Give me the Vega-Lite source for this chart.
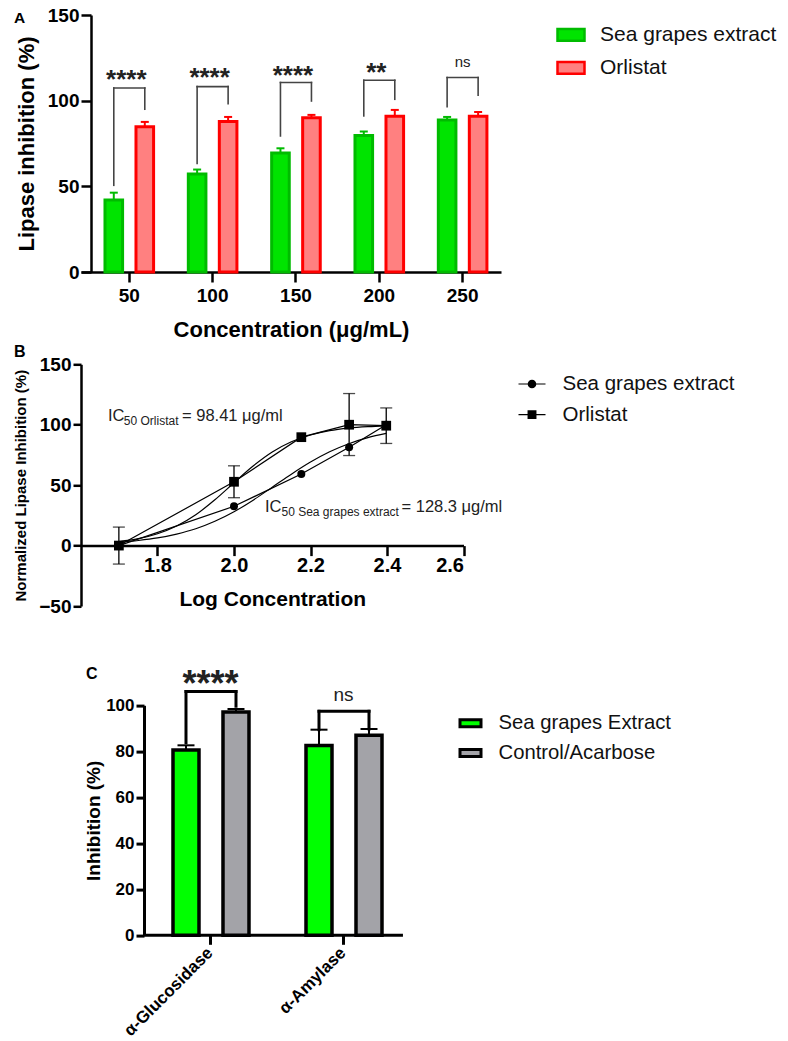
{
  "$schema": "https://vega.github.io/schema/vega-lite/v6.json",
  "padding": {"left": 13, "top": 6, "right": 0, "bottom": 0},
  "background": "white",
  "config": {
    "view": {"stroke": null},
    "font": "Liberation Sans",
    "axis": {"grid": false, "domainColor": "black", "tickColor": "black", "labelColor": "black", "titleColor": "black", "labelFont": "Liberation Sans", "titleFont": "Liberation Sans", "labelFontWeight": "bold", "titleFontWeight": "bold"},
    "legend": {"labelFont": "Liberation Sans", "labelColor": "#111", "padding": 0, "labelLimit": 400},
    "title": {"font": "Liberation Sans", "fontWeight": "bold", "color": "black"}
  },
  "datasets": {
    "a_bars": [
      {"conc": "50", "series": "Sea grapes extract", "val": 42.0, "hi": 46.3},
      {"conc": "50", "series": "Orlistat", "val": 84.8, "hi": 87.6},
      {"conc": "100", "series": "Sea grapes extract", "val": 57.2, "hi": 59.8},
      {"conc": "100", "series": "Orlistat", "val": 87.9, "hi": 90.5},
      {"conc": "150", "series": "Sea grapes extract", "val": 69.5, "hi": 72.2},
      {"conc": "150", "series": "Orlistat", "val": 90.1, "hi": 91.7},
      {"conc": "200", "series": "Sea grapes extract", "val": 79.6, "hi": 82.0},
      {"conc": "200", "series": "Orlistat", "val": 90.9, "hi": 94.6},
      {"conc": "250", "series": "Sea grapes extract", "val": 88.7, "hi": 90.5},
      {"conc": "250", "series": "Orlistat", "val": 90.9, "hi": 93.4}
    ],
    "a_brackets": [
      {"conc": "50", "lo_l": 50.6, "lo_r": 95.0, "top": 107.4},
      {"conc": "100", "lo_l": 63.3, "lo_r": 98.3, "top": 108.2},
      {"conc": "150", "lo_l": 79.4, "lo_r": 99.8, "top": 110.6},
      {"conc": "200", "lo_l": 91.1, "lo_r": 100.8, "top": 111.9},
      {"conc": "250", "lo_l": 96.5, "lo_r": 103.2, "top": 113.5}
    ],
    "a_sig": [
      {"conc": "50", "label": "****", "y": 107.2},
      {"conc": "100", "label": "****", "y": 108.6},
      {"conc": "150", "label": "****", "y": 110.0},
      {"conc": "200", "label": "**", "y": 111.5},
      {"conc": "250", "label": "ns", "y": 119.9}
    ],
    "b_pts": [
      {"series": "Sea grapes extract", "x": 1.699, "y": 0},
      {"series": "Sea grapes extract", "x": 2.0, "y": 32.5},
      {"series": "Sea grapes extract", "x": 2.176, "y": 59.2},
      {"series": "Sea grapes extract", "x": 2.301, "y": 81.4},
      {"series": "Sea grapes extract", "x": 2.398, "y": 100},
      {"series": "Orlistat", "x": 1.699, "y": 0},
      {"series": "Orlistat", "x": 2.0, "y": 52.8},
      {"series": "Orlistat", "x": 2.176, "y": 89.7},
      {"series": "Orlistat", "x": 2.301, "y": 100},
      {"series": "Orlistat", "x": 2.398, "y": 99.2}
    ],
    "b_err": [
      {"series": "Orlistat", "x": 1.699, "lo": -15.3, "hi": 15.3},
      {"series": "Orlistat", "x": 2.0, "lo": 39.6, "hi": 66.0},
      {"series": "Orlistat", "x": 2.301, "lo": 74.5, "hi": 125.8},
      {"series": "Orlistat", "x": 2.398, "lo": 84.5, "hi": 113.9}
    ],
    "b_fit": [
      {"series": "Orlistat", "x": 1.699, "y": 3.3},
      {"series": "Orlistat", "x": 1.75, "y": 5.7},
      {"series": "Orlistat", "x": 1.8, "y": 9.8},
      {"series": "Orlistat", "x": 1.85, "y": 16.2},
      {"series": "Orlistat", "x": 1.9, "y": 25.5},
      {"series": "Orlistat", "x": 1.95, "y": 37.9},
      {"series": "Orlistat", "x": 2.0, "y": 52.0},
      {"series": "Orlistat", "x": 2.05, "y": 65.8},
      {"series": "Orlistat", "x": 2.1, "y": 77.4},
      {"series": "Orlistat", "x": 2.15, "y": 85.9},
      {"series": "Orlistat", "x": 2.2, "y": 91.5},
      {"series": "Orlistat", "x": 2.25, "y": 95.1},
      {"series": "Orlistat", "x": 2.3, "y": 97.2},
      {"series": "Orlistat", "x": 2.35, "y": 98.4},
      {"series": "Orlistat", "x": 2.398, "y": 99.1},
      {"series": "Sea grapes extract", "x": 1.699, "y": 2.7},
      {"series": "Sea grapes extract", "x": 1.75, "y": 4.2},
      {"series": "Sea grapes extract", "x": 1.8, "y": 6.3},
      {"series": "Sea grapes extract", "x": 1.85, "y": 9.5},
      {"series": "Sea grapes extract", "x": 1.9, "y": 13.9},
      {"series": "Sea grapes extract", "x": 1.95, "y": 20.1},
      {"series": "Sea grapes extract", "x": 2.0, "y": 28.0},
      {"series": "Sea grapes extract", "x": 2.05, "y": 37.6},
      {"series": "Sea grapes extract", "x": 2.1, "y": 48.3},
      {"series": "Sea grapes extract", "x": 2.15, "y": 59.1},
      {"series": "Sea grapes extract", "x": 2.2, "y": 69.1},
      {"series": "Sea grapes extract", "x": 2.25, "y": 77.6},
      {"series": "Sea grapes extract", "x": 2.3, "y": 84.3},
      {"series": "Sea grapes extract", "x": 2.35, "y": 89.3},
      {"series": "Sea grapes extract", "x": 2.398, "y": 92.8}
    ],
    "b_ann": [
      {"x": 1.6706, "y": 102.8, "t": "IC", "part": "main"},
      {"x": 1.712, "y": 102.8, "t": "50 Orlistat", "part": "sub"},
      {"x": 1.864, "y": 102.8, "t": "= 98.41 μg/ml", "part": "main"},
      {"x": 2.081, "y": 27.8, "t": "IC", "part": "main"},
      {"x": 2.1242, "y": 27.8, "t": "50 Sea grapes extract", "part": "sub"},
      {"x": 2.4379, "y": 27.8, "t": "= 128.3 μg/ml", "part": "main"}
    ],
    "c_bars": [
      {"enz": "α-Glucosidase", "series": "Sea grapes Extract", "val": 80.6, "hi": 82.6},
      {"enz": "α-Glucosidase", "series": "Control/Acarbose", "val": 97.1, "hi": 98.4},
      {"enz": "α-Amylase", "series": "Sea grapes Extract", "val": 82.5, "hi": 89.4},
      {"enz": "α-Amylase", "series": "Control/Acarbose", "val": 87.0, "hi": 89.7}
    ],
    "c_base": [
      {"from": "α-Glucosidase", "to": "α-Amylase", "y": 0}
    ],
    "c_brackets": [
      {"enz": "α-Glucosidase", "lo_l": 83.7, "lo_r": 99.6, "top": 106.0},
      {"enz": "α-Amylase", "lo_l": 89.4, "lo_r": 89.7, "top": 97.4}
    ],
    "c_sig": [
      {"enz": "α-Glucosidase", "label": "****", "y": 103.9},
      {"enz": "α-Amylase", "label": "ns", "y": 102.0}
    ]
  },
  "vconcat": [
    {
      "width": 420,
      "height": 257,
      "title": {"text": "A", "anchor": "start", "frame": "group", "fontSize": 15.5, "offset": 0, "dx": -67, "dy": 32.3, "baseline": "alphabetic"},
      "layer": [
        {
          "data": {"name": "a_bars"},
          "transform": [{"filter": "datum.series == 'Sea grapes extract'"}],
          "mark": {"type": "rule", "strokeWidth": 2, "xOffset": -15.5},
          "encoding": {
            "x": {"field": "conc", "type": "nominal", "sort": ["50", "100", "150", "200", "250"], "title": "Concentration (μg/mL)", "scale": {"domain": ["50", "100", "150", "200", "250"], "paddingInner": 0.25, "paddingOuter": 0.145, "align": 0.705},
              "axis": {"labelAngle": 0, "labelFontSize": 19, "tickSize": 10, "tickWidth": 2.5, "domainWidth": 2.5, "labelPadding": 4.3, "titleFontSize": 22, "titlePadding": 13.7}},
            "y": {"field": "val", "type": "quantitative", "title": "Lipase inhibition (%)", "scale": {"domain": [0, 150], "nice": false},
              "axis": {"values": [0, 50, 100, 150], "offset": -10, "labelFontSize": 19, "tickSize": 10, "tickWidth": 2.5, "domainWidth": 2.5, "labelPadding": 2, "titleFontSize": 22, "titlePadding": 9}},
            "y2": {"field": "hi"},
            "stroke": {"field": "series", "type": "nominal", "scale": {"domain": ["Sea grapes extract", "Orlistat"], "range": ["#00bb00", "#ff0000"]},
              "legend": {"orient": "none", "legendX": 475, "legendY": 4.8, "title": null, "labelFontSize": 21, "labelOffset": 14, "rowPadding": 7, "symbolType": "M-1,-0.437H1V0.437H-1Z", "symbolSize": 729, "symbolStrokeWidth": 2.5, "padding": 0}}
          }
        },
        {
          "data": {"name": "a_bars"},
          "transform": [{"filter": "datum.series == 'Orlistat'"}],
          "mark": {"type": "rule", "strokeWidth": 2, "xOffset": 15.5},
          "encoding": {
            "x": {"field": "conc", "type": "nominal", "sort": ["50", "100", "150", "200", "250"]},
            "y": {"field": "val", "type": "quantitative"},
            "y2": {"field": "hi"},
            "stroke": {"field": "series", "type": "nominal"}
          }
        },
        {
          "data": {"name": "a_bars"},
          "transform": [{"filter": "datum.series == 'Sea grapes extract'"}],
          "mark": {"type": "rule", "strokeWidth": 2, "xOffset": -19.5, "x2Offset": -11.5},
          "encoding": {
            "x": {"field": "conc", "type": "nominal", "sort": ["50", "100", "150", "200", "250"]},
            "x2": {"field": "conc"},
            "y": {"field": "hi", "type": "quantitative"},
            "stroke": {"field": "series", "type": "nominal"}
          }
        },
        {
          "data": {"name": "a_bars"},
          "transform": [{"filter": "datum.series == 'Orlistat'"}],
          "mark": {"type": "rule", "strokeWidth": 2, "xOffset": 11.5, "x2Offset": 19.5},
          "encoding": {
            "x": {"field": "conc", "type": "nominal", "sort": ["50", "100", "150", "200", "250"]},
            "x2": {"field": "conc"},
            "y": {"field": "hi", "type": "quantitative"},
            "stroke": {"field": "series", "type": "nominal"}
          }
        },
        {
          "data": {"name": "a_bars"},
          "transform": [{"filter": "datum.series == 'Sea grapes extract'"}],
          "mark": {"type": "bar", "strokeWidth": 3, "width": 17.6, "xOffset": -15.5},
          "encoding": {
            "x": {"field": "conc", "type": "nominal", "sort": ["50", "100", "150", "200", "250"]},
            "y": {"field": "val", "type": "quantitative"},
            "fill": {"field": "series", "type": "nominal", "scale": {"domain": ["Sea grapes extract", "Orlistat"], "range": ["#00e400", "#ff8080"]},
              "legend": {"orient": "none", "legendX": 475, "legendY": 4.8, "title": null, "labelFontSize": 21, "labelOffset": 14, "rowPadding": 7, "symbolType": "M-1,-0.437H1V0.437H-1Z", "symbolSize": 729, "symbolStrokeWidth": 2.5, "padding": 0}},
            "stroke": {"field": "series", "type": "nominal"}
          }
        },
        {
          "data": {"name": "a_bars"},
          "transform": [{"filter": "datum.series == 'Orlistat'"}],
          "mark": {"type": "bar", "strokeWidth": 3, "width": 17.6, "xOffset": 15.5},
          "encoding": {
            "x": {"field": "conc", "type": "nominal", "sort": ["50", "100", "150", "200", "250"]},
            "y": {"field": "val", "type": "quantitative"},
            "fill": {"field": "series", "type": "nominal"},
            "stroke": {"field": "series", "type": "nominal"}
          }
        },
        {
          "data": {"name": "a_brackets"},
          "mark": {"type": "rule", "color": "#444", "strokeWidth": 1.6, "xOffset": -15.5, "strokeCap": "square"},
          "encoding": {
            "x": {"field": "conc", "type": "nominal", "sort": ["50", "100", "150", "200", "250"]},
            "y": {"field": "lo_l", "type": "quantitative"},
            "y2": {"field": "top"}
          }
        },
        {
          "data": {"name": "a_brackets"},
          "mark": {"type": "rule", "color": "#444", "strokeWidth": 1.6, "xOffset": 15.5, "strokeCap": "square"},
          "encoding": {
            "x": {"field": "conc", "type": "nominal", "sort": ["50", "100", "150", "200", "250"]},
            "y": {"field": "lo_r", "type": "quantitative"},
            "y2": {"field": "top"}
          }
        },
        {
          "data": {"name": "a_brackets"},
          "mark": {"type": "rule", "color": "#444", "strokeWidth": 1.6, "xOffset": -15.5, "x2Offset": 15.5, "strokeCap": "square"},
          "encoding": {
            "x": {"field": "conc", "type": "nominal", "sort": ["50", "100", "150", "200", "250"]},
            "x2": {"field": "conc"},
            "y": {"field": "top", "type": "quantitative"}
          }
        },
        {
          "data": {"name": "a_sig"},
          "transform": [{"filter": "datum.label != 'ns'"}],
          "mark": {"type": "text", "fontSize": 26, "fontWeight": "bold", "baseline": "alphabetic", "dx": -3, "color": "#222"},
          "encoding": {
            "x": {"field": "conc", "type": "nominal", "sort": ["50", "100", "150", "200", "250"]},
            "y": {"field": "y", "type": "quantitative"},
            "text": {"field": "label"}
          }
        },
        {
          "data": {"name": "a_sig"},
          "transform": [{"filter": "datum.label == 'ns'"}],
          "mark": {"type": "text", "fontSize": 15, "baseline": "alphabetic", "color": "#222"},
          "encoding": {
            "x": {"field": "conc", "type": "nominal", "sort": ["50", "100", "150", "200", "250"]},
            "y": {"field": "y", "type": "quantitative"},
            "text": {"field": "label"}
          }
        }
      ]
    },
    {
      "width": 382.5,
      "height": 241.7,
      "title": {"text": "B", "anchor": "start", "frame": "group", "fontSize": 16, "offset": 0, "dx": -67, "dy": 18, "baseline": "alphabetic"},
      "resolve": {"scale": {"shape": "independent", "size": "independent"}, "legend": {"shape": "independent", "size": "independent"}},
      "layer": [
        {
          "data": {"name": "b_fit"},
          "mark": {"type": "line", "interpolate": "monotone", "color": "black", "strokeWidth": 1.2},
          "encoding": {
            "x": {"field": "x", "type": "quantitative", "title": "Log Concentration", "scale": {"domain": [1.6, 2.6], "nice": false, "zero": false},
              "axis": {"values": [1.8, 2.0, 2.2, 2.4, 2.6], "format": ".1f", "offset": -60.4, "labelFontSize": 20, "tickSize": 10, "tickWidth": 2.5, "domainWidth": 2.5, "labelPadding": 0, "titleFontSize": 21, "titlePadding": 12.5}},
            "y": {"field": "y", "type": "quantitative", "title": "Normalized Lipase Inhibition (%)", "scale": {"domain": [-50, 150], "nice": false},
              "axis": {"values": [-50, 0, 50, 100, 150], "labelFontSize": 19, "tickSize": 8, "tickWidth": 2.5, "domainWidth": 2.5, "labelPadding": 2, "titleFontSize": 15, "titlePadding": 10.6}},
            "detail": {"field": "series"}
          }
        },
        {
          "data": {"name": "b_pts"},
          "mark": {"type": "line", "color": "black", "strokeWidth": 1.2},
          "encoding": {
            "x": {"field": "x", "type": "quantitative"},
            "y": {"field": "y", "type": "quantitative"},
            "detail": {"field": "series"}
          }
        },
        {
          "data": {"name": "b_err"},
          "mark": {"type": "rule", "color": "black", "strokeWidth": 1.3},
          "encoding": {
            "x": {"field": "x", "type": "quantitative"},
            "y": {"field": "lo", "type": "quantitative"},
            "y2": {"field": "hi"}
          }
        },
        {
          "data": {"name": "b_err"},
          "mark": {"type": "tick", "orient": "horizontal", "size": 12, "thickness": 1.3, "color": "black"},
          "encoding": {
            "x": {"field": "x", "type": "quantitative"},
            "y": {"field": "lo", "type": "quantitative"}
          }
        },
        {
          "data": {"name": "b_err"},
          "mark": {"type": "tick", "orient": "horizontal", "size": 12, "thickness": 1.3, "color": "black"},
          "encoding": {
            "x": {"field": "x", "type": "quantitative"},
            "y": {"field": "hi", "type": "quantitative"}
          }
        },
        {
          "data": {"name": "b_pts"},
          "mark": {"type": "point", "filled": true, "color": "black", "opacity": 1},
          "encoding": {
            "x": {"field": "x", "type": "quantitative"},
            "y": {"field": "y", "type": "quantitative"},
            "shape": {"field": "series", "type": "nominal", "scale": {"domain": ["Sea grapes extract", "Orlistat"], "range": ["circle", "square"]}, "legend": null},
            "size": {"field": "series", "type": "ordinal", "scale": {"domain": ["Sea grapes extract", "Orlistat"], "range": [64, 95]}, "legend": null}
          }
        },
        {
          "data": {"name": "b_pts"},
          "mark": {"type": "point", "filled": true, "color": "black", "opacity": 0},
          "encoding": {
            "x": {"field": "x", "type": "quantitative"},
            "y": {"field": "y", "type": "quantitative"},
            "shape": {"field": "series", "type": "nominal", "scale": {"domain": ["Sea grapes extract", "Orlistat"], "range": ["M-1,-0.045H1V0.045H-1ZM-0.32,0A0.32,0.32,0,1,1,0.32,0A0.32,0.32,0,1,1,-0.32,0Z", "M-1,-0.045H1V0.045H-1ZM-0.33,-0.33H0.33V0.33H-0.33Z"]},
              "legend": {"orient": "none", "legendX": 436.5, "legendY": 5.2, "title": null, "labelFontSize": 20.5, "labelOffset": 16, "rowPadding": 5.6, "symbolSize": 729, "symbolFillColor": "black", "symbolOpacity": 1, "padding": 0}}
          }
        },
        {
          "data": {"name": "b_ann"},
          "transform": [{"filter": "datum.part == 'main'"}],
          "mark": {"type": "text", "fontSize": 16.5, "align": "left", "baseline": "alphabetic", "color": "#222"},
          "encoding": {
            "x": {"field": "x", "type": "quantitative"},
            "y": {"field": "y", "type": "quantitative"},
            "text": {"field": "t"}
          }
        },
        {
          "data": {"name": "b_ann"},
          "transform": [{"filter": "datum.part == 'sub'"}],
          "mark": {"type": "text", "fontSize": 12, "align": "left", "baseline": "alphabetic", "dy": 4, "color": "#222"},
          "encoding": {
            "x": {"field": "x", "type": "quantitative"},
            "y": {"field": "y", "type": "quantitative"},
            "text": {"field": "t"}
          }
        }
      ]
    },
    {
      "width": 329,
      "height": 236.7,
      "title": {"text": "C", "anchor": "start", "frame": "group", "fontSize": 16, "offset": 0, "dx": 5, "dy": 27.3, "baseline": "alphabetic"},
      "layer": [
        {
          "data": {"name": "c_bars"},
          "transform": [{"filter": "datum.series == 'Sea grapes Extract'"}],
          "mark": {"type": "rule", "color": "black", "strokeWidth": 2, "xOffset": -24.5},
          "encoding": {
            "x": {"field": "enz", "type": "nominal", "sort": ["α-Glucosidase", "α-Amylase"], "title": null, "scale": {"domain": ["α-Glucosidase", "α-Amylase"], "paddingInner": 0, "paddingOuter": 0.2368, "align": 1},
              "axis": {"labelAngle": -45, "labelFontSize": 17, "tickSize": 9, "tickWidth": 3, "domain": false, "labelPadding": 0, "labelOffset": -6}},
            "y": {"field": "val", "type": "quantitative", "title": "Inhibition (%)", "scale": {"domain": [0, 100], "nice": false, "range": [236.7, 6.7]},
              "axis": {"values": [0, 20, 40, 60, 80, 100], "offset": -63, "labelFontSize": 17, "tickSize": 8, "tickWidth": 3, "domainWidth": 3, "labelPadding": 2, "titleFontSize": 19, "titlePadding": 2.4}},
            "y2": {"field": "hi"}
          }
        },
        {
          "data": {"name": "c_bars"},
          "transform": [{"filter": "datum.series == 'Control/Acarbose'"}],
          "mark": {"type": "rule", "color": "black", "strokeWidth": 2, "xOffset": 25.5},
          "encoding": {
            "x": {"field": "enz", "type": "nominal", "sort": ["α-Glucosidase", "α-Amylase"]},
            "y": {"field": "val", "type": "quantitative"},
            "y2": {"field": "hi"}
          }
        },
        {
          "data": {"name": "c_bars"},
          "transform": [{"filter": "datum.series == 'Sea grapes Extract'"}],
          "mark": {"type": "rule", "color": "black", "strokeWidth": 2, "xOffset": -33, "x2Offset": -16},
          "encoding": {
            "x": {"field": "enz", "type": "nominal", "sort": ["α-Glucosidase", "α-Amylase"]},
            "x2": {"field": "enz"},
            "y": {"field": "hi", "type": "quantitative"}
          }
        },
        {
          "data": {"name": "c_bars"},
          "transform": [{"filter": "datum.series == 'Control/Acarbose'"}],
          "mark": {"type": "rule", "color": "black", "strokeWidth": 2, "xOffset": 17, "x2Offset": 34},
          "encoding": {
            "x": {"field": "enz", "type": "nominal", "sort": ["α-Glucosidase", "α-Amylase"]},
            "x2": {"field": "enz"},
            "y": {"field": "hi", "type": "quantitative"}
          }
        },
        {
          "data": {"name": "c_base"},
          "mark": {"type": "rule", "color": "black", "strokeWidth": 3},
          "encoding": {
            "x": {"field": "from", "type": "nominal", "sort": ["α-Glucosidase", "α-Amylase"], "bandPosition": 0},
            "x2": {"field": "to", "bandPosition": 0.947},
            "y": {"field": "y", "type": "quantitative"}
          }
        },
        {
          "data": {"name": "c_bars"},
          "transform": [{"filter": "datum.series == 'Sea grapes Extract'"}],
          "mark": {"type": "bar", "stroke": "black", "strokeWidth": 3.5, "width": 26, "xOffset": -24.5},
          "encoding": {
            "x": {"field": "enz", "type": "nominal", "sort": ["α-Glucosidase", "α-Amylase"]},
            "y": {"field": "val", "type": "quantitative"},
            "fill": {"field": "series", "type": "nominal", "scale": {"domain": ["Sea grapes Extract", "Control/Acarbose"], "range": ["#00ff00", "#a3a3a8"]},
              "legend": {"orient": "none", "legendX": 377.5, "legendY": 12.7, "title": null, "labelFontSize": 20.3, "labelOffset": 16, "rowPadding": 6.7, "symbolType": "M-1,-0.333H1V0.333H-1Z", "symbolSize": 441, "symbolStrokeColor": "black", "symbolStrokeWidth": 3, "padding": 0}}
          }
        },
        {
          "data": {"name": "c_bars"},
          "transform": [{"filter": "datum.series == 'Control/Acarbose'"}],
          "mark": {"type": "bar", "stroke": "black", "strokeWidth": 3.5, "width": 26, "xOffset": 25.5},
          "encoding": {
            "x": {"field": "enz", "type": "nominal", "sort": ["α-Glucosidase", "α-Amylase"]},
            "y": {"field": "val", "type": "quantitative"},
            "fill": {"field": "series", "type": "nominal"}
          }
        },
        {
          "data": {"name": "c_brackets"},
          "mark": {"type": "rule", "color": "black", "strokeWidth": 3, "xOffset": -24.5, "strokeCap": "square"},
          "encoding": {
            "x": {"field": "enz", "type": "nominal", "sort": ["α-Glucosidase", "α-Amylase"]},
            "y": {"field": "lo_l", "type": "quantitative"},
            "y2": {"field": "top"}
          }
        },
        {
          "data": {"name": "c_brackets"},
          "mark": {"type": "rule", "color": "black", "strokeWidth": 3, "xOffset": 25.5, "strokeCap": "square"},
          "encoding": {
            "x": {"field": "enz", "type": "nominal", "sort": ["α-Glucosidase", "α-Amylase"]},
            "y": {"field": "lo_r", "type": "quantitative"},
            "y2": {"field": "top"}
          }
        },
        {
          "data": {"name": "c_brackets"},
          "mark": {"type": "rule", "color": "black", "strokeWidth": 3, "xOffset": -24.5, "x2Offset": 25.5, "strokeCap": "square"},
          "encoding": {
            "x": {"field": "enz", "type": "nominal", "sort": ["α-Glucosidase", "α-Amylase"]},
            "x2": {"field": "enz"},
            "y": {"field": "top", "type": "quantitative"}
          }
        },
        {
          "data": {"name": "c_sig"},
          "transform": [{"filter": "datum.label != 'ns'"}],
          "mark": {"type": "text", "fontSize": 36, "fontWeight": "bold", "baseline": "alphabetic", "color": "#222"},
          "encoding": {
            "x": {"field": "enz", "type": "nominal", "sort": ["α-Glucosidase", "α-Amylase"]},
            "y": {"field": "y", "type": "quantitative"},
            "text": {"field": "label"}
          }
        },
        {
          "data": {"name": "c_sig"},
          "transform": [{"filter": "datum.label == 'ns'"}],
          "mark": {"type": "text", "fontSize": 19, "baseline": "alphabetic", "color": "#222"},
          "encoding": {
            "x": {"field": "enz", "type": "nominal", "sort": ["α-Glucosidase", "α-Amylase"]},
            "y": {"field": "y", "type": "quantitative"},
            "text": {"field": "label"}
          }
        }
      ]
    }
  ],
  "spacing": 92.3,
  "bounds": "flush",
  "resolve": {"scale": {"fill": "independent", "stroke": "independent", "shape": "independent", "size": "independent", "color": "independent"}, "legend": {"fill": "independent", "stroke": "independent", "shape": "independent", "size": "independent", "color": "independent"}}
}
